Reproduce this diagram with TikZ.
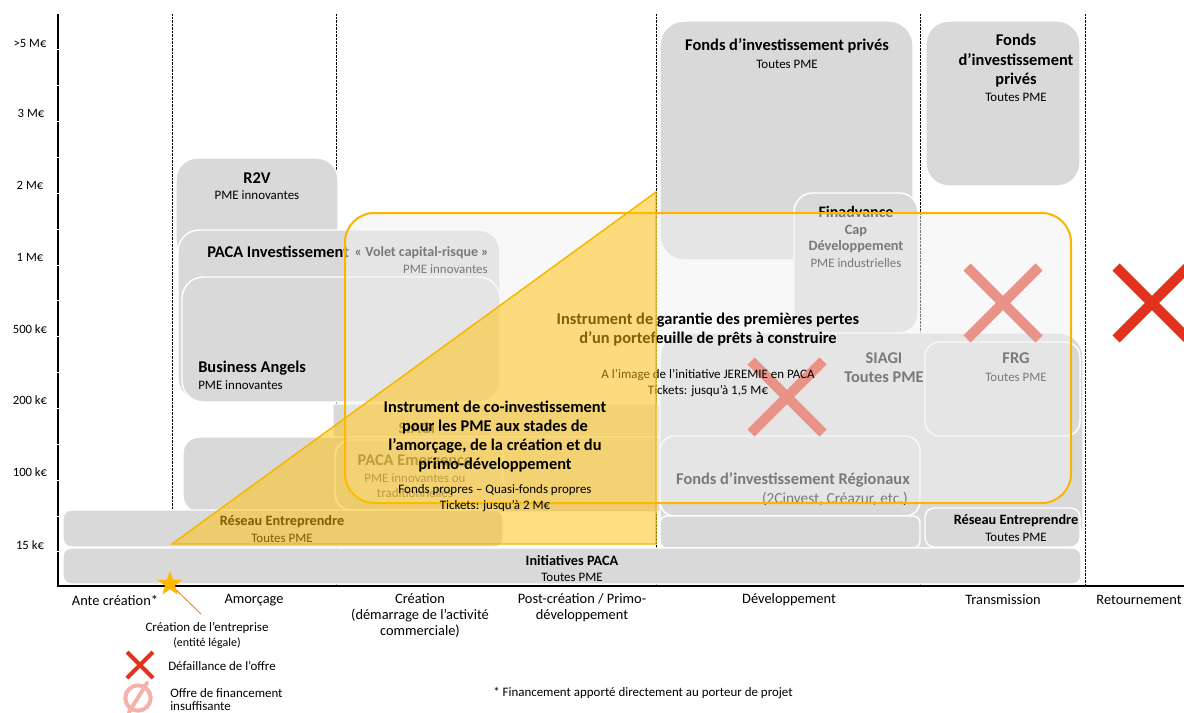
\documentclass[tikz,border=0pt]{standalone}
\usepackage{fontspec}
\setmainfont{Carlito}
\usetikzlibrary{shapes.geometric}
\definecolor{boxgray}{RGB}{217,217,217}
\definecolor{orng}{RGB}{247,182,0}
\definecolor{trifill}{RGB}{255,192,0}
\definecolor{xred}{RGB}{225,50,30}
\definecolor{pinkx}{RGB}{244,178,172}
\definecolor{starc}{RGB}{255,184,0}
\definecolor{linec}{RGB}{232,122,30}
\begin{document}
\begin{tikzpicture}[x=0.75pt,y=-0.75pt,
 box/.style={fill=boxgray,draw=white,line width=1.1pt,rounded corners=#1},
 box/.default=16pt,
 ttl/.style={font=\fontsize{12.3}{14.6}\selectfont\bfseries,inner sep=0pt,align=center},
 ttm/.style={font=\fontsize{10.7}{12.5}\selectfont\bfseries,inner sep=0pt,align=center},
 sub/.style={font=\fontsize{9.7}{11.5}\selectfont,inner sep=0pt,align=center},
 axl/.style={font=\fontsize{10.8}{12}\selectfont,inner sep=0pt,align=center},
 yl/.style={font=\fontsize{9.5}{11}\selectfont,inner sep=0pt},
 redx/.style={xred,line width=#1,line cap=butt},
 vline/.style={black,line width=0.45pt,dash pattern=on 0.45pt off 0.6pt},
]
\useasboundingbox (0,0) rectangle (1184,713);
\fill[white] (0,0) rectangle (1184,713);

% dotted stage separators
\foreach \xx in {172,336,656,920,1085} \draw[vline] (\xx,14) -- (\xx,585);

% ---- grey boxes ----
\path[box=16pt] (176,158) rectangle (338,262);
\path[box=16pt] (178,230) rectangle (500,400);
\path[box=16pt] (182,277) rectangle (500,402);
\path[box=0.1pt] (333,404) rectangle (660,437);
\path[box=12pt] (183,437) rectangle (920,512);
\path[box=12pt] (335,440) rectangle (503,510);
\path[box=6pt] (63,510) rectangle (503,547);
\path[box=18pt] (660,21) rectangle (913,260);
\path[box=14pt] (794,193) rectangle (918,333);
\path[box=17pt] (926,21) rectangle (1080,186);
\path[box=18pt] (660,333) rectangle (1083,548);
\path[box=11pt] (925,342) rectangle (1080,436);
\path[box=11pt] (660,436) rectangle (920,516);
\path[box=5pt] (660,516) rectangle (920,548);
\path[box=7pt] (925,508) rectangle (1080,547);
\path[box=6pt] (63,548) rectangle (1081,584);

% ---- box texts ----
\node[ttl] (r2v) at (257,178) {R2V};
\node[sub] (r2vs) at (257,195) {PME innovantes};
\node[ttl,anchor=west] (pinv) at (207,252) {PACA Investissement};
\node[font=\fontsize{10.5}{12}\selectfont\bfseries,inner sep=0pt,anchor=east] (pinvv) at (489,253) {« Volet capital-risque »};
\node[sub,anchor=east] (pinvs) at (488,269) {PME innovantes};
\node[ttl,anchor=west] (ba) at (198,368) {Business Angels};
\node[sub,anchor=west] (bas) at (198,385) {PME innovantes};
\node[ttl] (siagil) at (417,428) {SIAGI};
\node[ttl] (pem) at (415,462) {PACA Emergence};
\node[sub] (pems) at (415,485.5) {PME innovantes ou\\traditionnelles};
\node[ttm] (rel) at (282,522) {Réseau Entreprendre};
\node[sub] (rels) at (282,538) {Toutes PME};
\node[ttm] (ini) at (572,561) {Initiatives PACA};
\node[sub] (inis) at (572,577) {Toutes PME};
\node[ttl] (fdev) at (787,46) {Fonds d’investissement privés};
\node[sub] (fdevs) at (787,64) {Toutes PME};
\node[font=\fontsize{12}{14}\selectfont\bfseries,inner sep=0pt] (fin) at (856,212) {Finadvance};
\node[ttm] (cap) at (856,239) {Cap\\Développement};
\node[sub] (fins) at (856,263) {PME industrielles};
\node[ttl] (ftr) at (1016,61) {Fonds\\d’investissement\\privés};
\node[sub] (ftrs) at (1016,97) {Toutes PME};
\node[ttl] (siagi) at (884,358) {SIAGI};
\node[ttl] (siagis) at (884,377) {Toutes PME};
\node[ttl] (frg) at (1016,358) {FRG};
\node[sub] (frgs) at (1016,377) {Toutes PME};
\node[ttl,anchor=east] (freg) at (910,480) {Fonds d’investissement Régionaux};
\node[font=\fontsize{11.5}{13}\selectfont,inner sep=0pt,anchor=east] (fregs) at (908,499) {(2Cinvest, Créazur, etc.)};
\node[ttm] (rer) at (1016,521) {Réseau Entreprendre};
\node[sub] (rers) at (1016,537) {Toutes PME};

% ---- crosses (lightened by the overlay where inside it) ----
\draw[redx=7.5pt] (751,361) -- (823,433) (751,433) -- (823,361);
\draw[redx=7.5pt] (967,267) -- (1039,339) (967,339) -- (1039,267);
\draw[redx=7.5pt] (1116,267) -- (1188,339) (1116,339) -- (1188,267);

% ---- guarantee instrument overlay ----
\path[fill=gray!10,fill opacity=0.5,draw=orng,draw opacity=1,line width=1.5pt,rounded corners=22pt]
  (345,213) rectangle (1071,503);
\node[ttl] (gar1) at (708,320) {Instrument de garantie des premières pertes};
\node[ttl] (gar2) at (708,339) {d’un portefeuille de prêts à construire};
\node[sub] (gar3) at (708,375) {A l’image de l’initiative JEREMIE en PACA};
\node[sub] (gar4) at (708,391) {Tickets: jusqu’à 1,5 M€};

% ---- co-investment triangle ----
\path[fill=trifill,fill opacity=0.5,draw=orng,draw opacity=1,line width=1.1pt,line join=miter]
  (172,544) -- (656,192) -- (656,544) -- cycle;
\node[font=\fontsize{12.3}{14.3}\selectfont\bfseries,inner sep=0pt,align=center] (coi) at (495,436.5)
  {Instrument de co-investissement\\pour les PME aux stades de\\l’amorçage, de la création et du\\primo-développement};
\node[sub] (coi2) at (495,490) {Fonds propres – Quasi-fonds propres};
\node[sub] (coi3) at (495,506) {Tickets: jusqu’à 2 M€};

% ---- axes ----
\draw[black,line width=1.5pt] (58,14) -- (58,586) -- (1184,586);
\foreach \t in {49,85,121,157,193,229,265,300,336,372,408,444,480,516,551}
  \draw[white,line width=0.6pt] (55.5,\t) -- (60.5,\t);

% y labels
\node[yl] (y1) at (30,43) {>5 M€};
\node[yl] (y2) at (31,113) {3 M€};
\node[yl] (y3) at (30,185) {2 M€};
\node[yl] (y4) at (30,257) {1 M€};
\node[yl] (y5) at (30,329) {500 k€};
\node[yl] (y6) at (30,400) {200 k€};
\node[yl] (y7) at (30,472) {100 k€};
\node[yl] (y8) at (30,545) {15 k€};

% x labels
\node[axl] (x1) at (115,600) {Ante création*};
\node[axl] (x2) at (254,600) {Amorçage};
\node[axl,font=\fontsize{10.8}{12}\selectfont] (x3) at (420,616) {Création\\(démarrage de l’activité\\commerciale)};
\node[axl] (x4) at (582,608) {Post-création / Primo-\\développement};
\node[axl] (x5) at (789,600) {Développement};
\node[axl] (x6) at (1003,600) {Transmission};
\node[axl] (x7) at (1139,600) {Retournement};

% ---- legend ----
\node[sub] (crea) at (207,628) {Création de l’entreprise};
\node[font=\fontsize{9}{11}\selectfont,inner sep=0pt] (crea2) at (207,643) {(entité légale)};
\coordinate (creatip) at (201,614);
\node[star,star points=5,star point ratio=2.5,fill=starc,inner sep=0pt,minimum size=19pt] (stern) at (170,584) {};
\draw[linec,line width=0.6pt] (stern.center) -- (creatip);
\node[star,star points=5,star point ratio=2.5,fill=starc,inner sep=0pt,minimum size=19pt] (stern2) at (170,584) {};

\draw[redx=3pt] (127,652) -- (153,678) (127,678) -- (153,652);
\node[sub,anchor=west] (def) at (168,666) {Défaillance de l’offre};
\draw[pinkx,line width=3pt] (138,698) circle[radius=9.5pt];
\draw[pinkx,line width=3pt,line cap=round] (129,712) -- (147,683);
\node[sub,anchor=west] (off1) at (170,693) {Offre de financement};
\node[sub,anchor=west] (off2) at (170,706) {insuffisante};
\node[sub,anchor=west] (note) at (493,693) {* Financement apporté directement au porteur de projet};
\end{tikzpicture}
\end{document}
